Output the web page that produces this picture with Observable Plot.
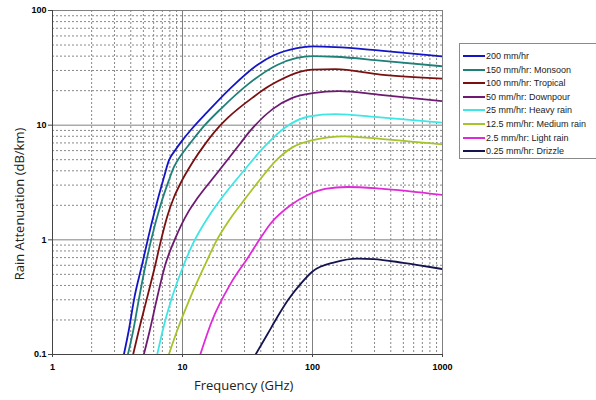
<!DOCTYPE html>
<html>
<head>
<meta charset="utf-8">
<script src="https://cdn.jsdelivr.net/npm/d3@7"></script>
<script src="https://cdn.jsdelivr.net/npm/@observablehq/plot@0.6"></script>
<style>
  html, body { margin: 0; padding: 0; background: #fff; }
  #wrap { position: relative; width: 596px; height: 400px; overflow: hidden; }
  .lab { position: absolute; font-family: "Open Sans", sans-serif; font-size: 13px; color: #222; white-space: nowrap; }
  #legend { position: absolute; left: 459px; top: 43px; width: 140px; height: 116px; border: 1px solid #8a8a8a; box-sizing: border-box; background: #fff; font-family: "Liberation Sans", Arial, sans-serif; font-size: 9px; color: #222; }
  .li { position: absolute; left: 3px; height: 12px; display: flex; align-items: center; }
  .li span.sw { display: inline-block; width: 22px; height: 2px; margin-right: 1px; }
</style>
</head>
<body>
<div id="wrap"></div>
<script>
// ---- Data ----
const seriesNames = [
  "200 mm/hr",
  "150 mm/hr: Monsoon",
  "100 mm/hr: Tropical",
  "50 mm/hr: Downpour",
  "25 mm/hr: Heavy rain",
  "12.5 mm/hr: Medium rain",
  "2.5 mm/hr: Light rain",
  "0.25 mm/hr: Drizzle"
];
const seriesColors = ["#1515c8", "#1f807a", "#7a1010", "#6e1a72", "#3fe6e6", "#a6c42a", "#e02ad8", "#14144e"];

const freq200 = [3.54, 3.86, 4.27, 4.9, 5.4, 6.12, 7.18, 7.85, 8.84, 10, 11.9, 15.5, 24.2, 37.6, 50, 76, 100, 150, 333, 1000];
const att200  = [0.1, 0.162, 0.315, 0.615, 1.0, 1.79, 3.48, 4.9, 6.1, 7.4, 9.4, 13, 21.8, 33.5, 40.5, 47, 48.6, 48, 44.7, 39.8];

const freq150 = [3.8, 4.17, 4.61, 5.19, 5.68, 6.77, 7.85, 8.58, 10, 11.5, 14.6, 20, 30.5, 53.5, 76, 100, 150, 333, 1000];
const att150  = [0.1, 0.16, 0.3, 0.6, 0.95, 2.0, 3.3, 4.3, 5.7, 7.0, 9.8, 14.1, 21.8, 33.5, 38.6, 40, 39.5, 36.6, 32.6];

const freq100 = [4.17, 4.61, 5.35, 6.2, 6.77, 7.63, 8.6, 9.64, 11.9, 15, 19.6, 22.7, 34.4, 46.1, 53.5, 81, 100, 150, 333, 1000];
const att100  = [0.1, 0.162, 0.315, 0.615, 0.95, 1.6, 2.35, 3.1, 4.7, 6.9, 10, 11.8, 17.3, 21.8, 24, 29.3, 30.5, 30.8, 27.6, 25.5];

const freq50 = [5.04, 5.6, 6.39, 7.4, 8.7, 11.2, 13, 19, 28, 33.4, 49.3, 70, 100, 160, 333, 1000];
const att50  = [0.1, 0.162, 0.315, 0.615, 1.0, 1.79, 2.3, 3.98, 7.0, 9.0, 13.8, 17.3, 19.0, 19.8, 18.4, 16.2];

const freq25 = [6.39, 7.3, 8.35, 10.2, 12, 15.9, 20.5, 29.6, 42.1, 62, 93.6, 150, 333, 1000];
const att25  = [0.1, 0.19, 0.32, 0.6, 0.92, 1.6, 2.4, 4.0, 6.4, 9.6, 11.9, 12.5, 11.7, 10.5];

const freq12 = [7.85, 9.1, 11.5, 15, 18.4, 23, 30.5, 38.7, 51.9, 70, 100, 175, 333, 1000];
const att12  = [0.1, 0.162, 0.315, 0.615, 1.0, 1.5, 2.3, 3.26, 4.86, 6.4, 7.4, 8.0, 7.6, 6.8];

const freq2 = [13.7, 16.9, 23.4, 32.4, 39, 47.5, 67.7, 91, 125, 185, 333, 1000];
const att2  = [0.1, 0.198, 0.413, 0.72, 1.0, 1.38, 2.0, 2.45, 2.78, 2.89, 2.8, 2.46];

const freq025 = [36.5, 45, 53.5, 65, 81, 100, 150, 221, 295, 500, 1000];
const att025  = [0.1, 0.15, 0.211, 0.3, 0.413, 0.53, 0.64, 0.687, 0.68, 0.63, 0.556];

const xMajor = [1, 10, 100, 1000];
const yMajor = [0.1, 1, 10, 100];

// ---- Build ----
const freqs = [freq200, freq150, freq100, freq50, freq25, freq12, freq2, freq025];
const atts  = [att200, att150, att100, att50, att25, att12, att2, att025];
const rows = [];
seriesNames.forEach((name, i) => {
  freqs[i].forEach((f, j) => rows.push({series: name, f, a: atts[i][j]}));
});
const xMinor = [], yMinor = [];
for (const d of [1, 10, 100]) for (let k = 2; k <= 9; k++) xMinor.push(d * k);
for (const d of [0.1, 1, 10]) for (let k = 2; k <= 9; k++) yMinor.push(+(d * k).toPrecision(3));

const chart = Plot.plot({
  width: 596,
  height: 400,
  marginLeft: 52,
  marginRight: 154,
  marginTop: 10,
  marginBottom: 46,
  style: {fontFamily: "Liberation Sans, Arial, sans-serif", background: "#fff"},
  x: {type: "log", domain: [1, 1000]},
  y: {type: "log", domain: [0.1, 100]},
  color: {domain: seriesNames, range: seriesColors},
  marks: [
    Plot.ruleX(xMinor, {stroke: "#7a7a7a", strokeDasharray: "2,2", strokeWidth: 0.9}),
    Plot.ruleY(yMinor, {stroke: "#7a7a7a", strokeDasharray: "2,2", strokeWidth: 0.9}),
    Plot.ruleX(xMajor, {stroke: "#808080", strokeWidth: 1}),
    Plot.ruleY(yMajor, {stroke: "#808080", strokeWidth: 1}),
    Plot.ruleX([1], {stroke: "#444", strokeWidth: 1}),
    Plot.ruleY([0.1], {stroke: "#444", strokeWidth: 1}),
    Plot.axisX({ticks: xMajor, tickFormat: d => String(d), tickSize: 3, fontWeight: "bold", fontSize: 9, tickPadding: 6, label: null, stroke: "#444"}),
    Plot.axisY({ticks: yMajor, tickFormat: d => String(d), tickSize: 4, fontWeight: "bold", fontSize: 9, tickPadding: 2, label: null, stroke: "#444"}),
    Plot.line(rows, {x: "f", y: "a", z: "series", stroke: "series", strokeWidth: 1.8, curve: "monotone-x", clip: true})
  ]
});

const wrap = document.getElementById("wrap");
wrap.appendChild(chart);

const xl = document.createElement("div");
xl.className = "lab";
xl.textContent = "Frequency (GHz)";
xl.style.left = "194px"; xl.style.top = "376px";
wrap.appendChild(xl);

const yl = document.createElement("div");
yl.className = "lab";
yl.textContent = "Rain Attenuation (dB/km)";
yl.style.left = "19px"; yl.style.top = "204px";
yl.style.transform = "translate(-50%, -50%) rotate(-90deg)";
wrap.appendChild(yl);

const lg = document.createElement("div");
lg.id = "legend";
seriesNames.forEach((name, i) => {
  const r = document.createElement("div");
  r.className = "li";
  r.style.top = (6 + i * 13.6) + "px";
  const sw = document.createElement("span");
  sw.className = "sw";
  sw.style.background = seriesColors[i];
  r.appendChild(sw);
  r.appendChild(document.createTextNode(name));
  lg.appendChild(r);
});
wrap.appendChild(lg);
</script>
</body>
</html>
